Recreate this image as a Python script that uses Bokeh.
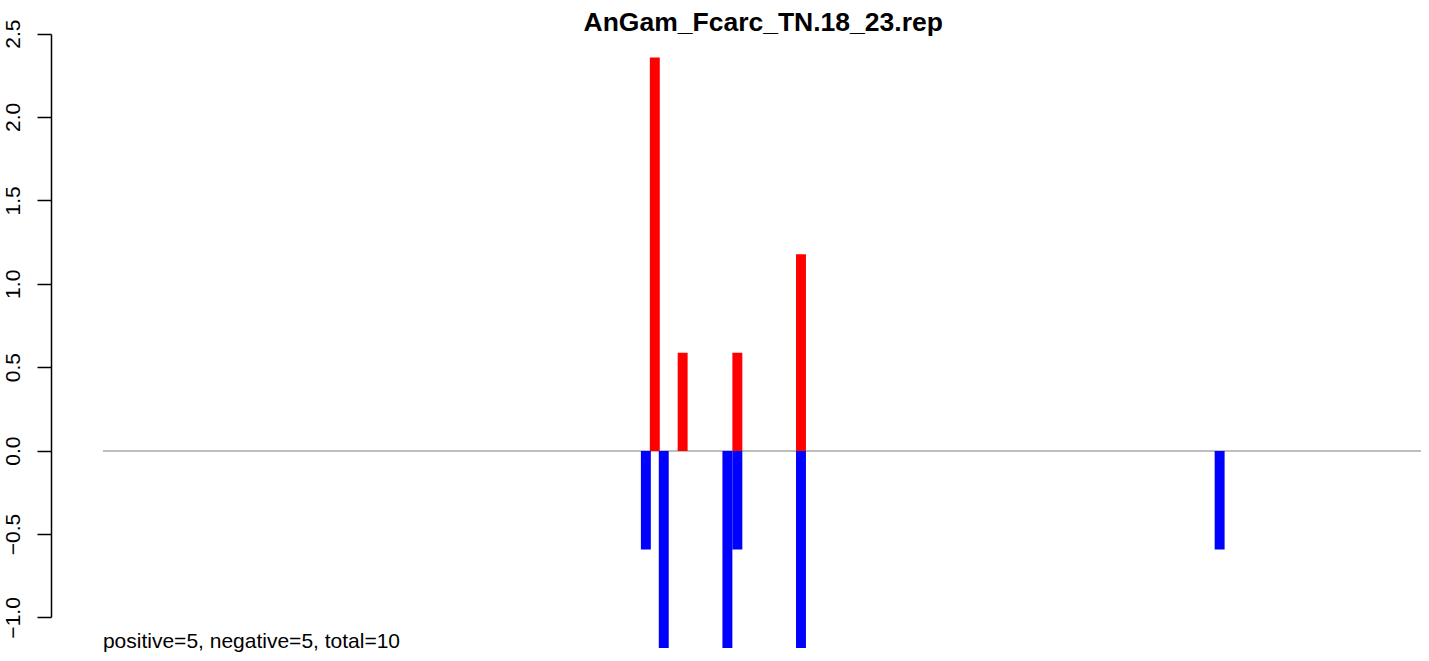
from bokeh.plotting import figure
from bokeh.models import ColumnDataSource, Range1d, FixedTicker
from bokeh.core.properties import value
from bokeh.embed import file_html
from bokeh.resources import INLINE

# ---- data ----
title_text = "AnGam_Fcarc_TN.18_23.rep"
summary_text = "positive=5, negative=5, total=10"

chrom_start = 0
chrom_end = 1326

pos_x = [555, 583, 638, 702]
pos_val = [2.36, 0.59, 0.59, 1.18]

neg_x = [546, 564, 628, 638, 702, 1123]
neg_val = [-0.59, -1.18, -1.18, -0.59, -1.18, -0.59]

y_ticks = [-1.0, -0.5, 0.0, 0.5, 1.0, 1.5, 2.0, 2.5]
y_tick_labels = ["\u22121.0", "\u22120.5", "0.0", "0.5", "1.0", "1.5", "2.0", "2.5"]

FONT = "Liberation Sans"

p = figure(width=1421, height=653, output_backend="svg", toolbar_location=None,
           x_axis_type=None, x_range=Range1d(-51.7, 1326), y_range=Range1d(-1.2133, 2.701),
           min_border_left=51, min_border_right=0, min_border_top=0, min_border_bottom=0)
p.outline_line_color = None
p.grid.visible = False
p.background_fill_color = "white"
p.border_fill_color = "white"

ax = p.yaxis[0]
ax.ticker = FixedTicker(ticks=y_ticks)
ax.major_label_overrides = {t: l for t, l in zip(y_ticks, y_tick_labels)}
ax.bounds = (y_ticks[0], y_ticks[-1])
ax.axis_line_color = "black"
ax.axis_line_width = 1.5
ax.major_tick_line_color = "black"
ax.major_tick_line_width = 1.5
ax.major_tick_out = 14
ax.major_tick_in = 0
ax.minor_tick_line_color = None
ax.major_label_orientation = "vertical"
ax.major_label_text_font = FONT
ax.major_label_text_font_size = "21px"
ax.major_label_text_color = "black"
ax.major_label_standoff = 17

# baseline
p.segment(x0=[chrom_start], y0=[0], x1=[chrom_end], y1=[0], line_color="#A9A9A9", line_width=1.5)

pos_src = ColumnDataSource(dict(x=pos_x, top=pos_val, bottom=[0] * len(pos_x)))
neg_src = ColumnDataSource(dict(x=neg_x, top=[0] * len(neg_x), bottom=neg_val))
p.vbar(x="x", top="top", bottom="bottom", width=10, source=pos_src,
       fill_color="#FF0000", line_color=None)
p.vbar(x="x", top="top", bottom="bottom", width=10, source=neg_src,
       fill_color="#0000FF", line_color=None)

p.text(x=[664], y=[2.573], text=[title_text], text_font=value(FONT), text_font_size="26.5px",
       text_font_style="bold", text_align="center", text_baseline="middle", text_color="black")
p.text(x=[0], y=[-1.138], text=[summary_text], text_font=value(FONT), text_font_size="21px",
       text_align="left", text_baseline="middle", text_color="black")

open("out.html", "w").write(file_html(p, INLINE))
